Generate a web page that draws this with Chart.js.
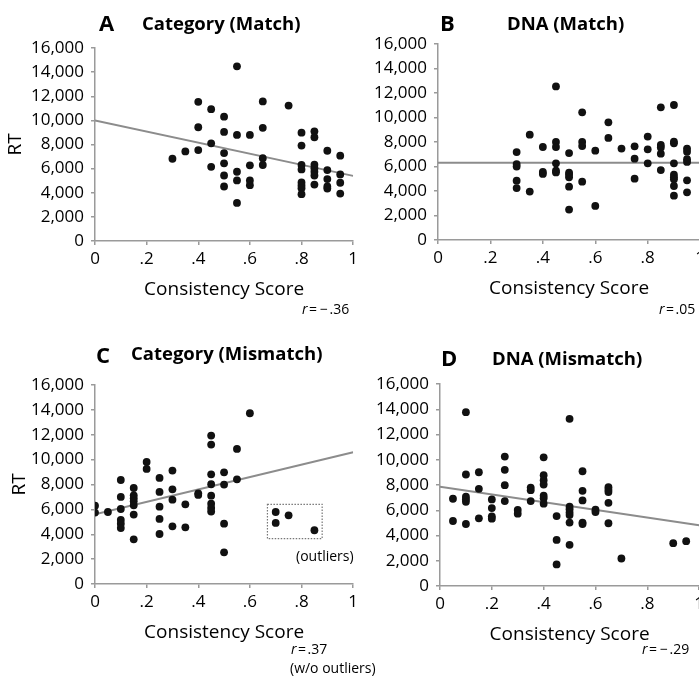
<!DOCTYPE html>
<html>
<head>
<meta charset="utf-8">
<script src="https://cdn.jsdelivr.net/npm/chart.js@4.4.1/dist/chart.umd.min.js"></script>
<style>
  html, body { margin: 0; padding: 0; background: #fff; }
  body { width: 699px; height: 679px; overflow: hidden; position: relative; font-family: 'Open Sans', sans-serif; color: #000; }
  canvas { position: absolute; }
  .lbl { position: absolute; line-height: 1; white-space: nowrap; }
  .letter { font-weight: bold; font-size: 22px; }
  .ttl { font-weight: bold; font-size: 18.5px; }
  .note { font-size: 14px; }
  .note .op { margin: 0 1.5px; }
  .out { font-size: 14px; }
</style>
</head>
<body>

<canvas id="panelA"></canvas>
<canvas id="panelB"></canvas>
<canvas id="panelC"></canvas>
<canvas id="panelD"></canvas>

<!-- panel titles -->
<div class="lbl letter" style="left:99px; top:10.5px;">A</div>
<div class="lbl ttl" style="left:142px; top:13.5px;">Category (Match)</div>
<div class="lbl letter" style="left:440px; top:10.5px;">B</div>
<div class="lbl ttl" style="left:507px; top:13.5px;">DNA (Match)</div>
<div class="lbl letter" style="left:96px; top:342.5px;">C</div>
<div class="lbl ttl" style="left:131px; top:344px;">Category (Mismatch)</div>
<div class="lbl letter" style="left:441px; top:345.5px;">D</div>
<div class="lbl ttl" style="left:492px; top:348.5px;">DNA (Mismatch)</div>

<!-- correlations -->
<div class="lbl note" style="left:302px; top:301.5px;"><i>r</i><span class="op">=</span><span class="op">&minus;</span>.36</div>
<div class="lbl note" style="left:659px; top:301.5px;"><i>r</i><span class="op">=</span>.05</div>
<div class="lbl note" style="left:291px; top:641.5px;"><i>r</i><span class="op">=</span>.37</div>
<div class="lbl note" style="left:290px; top:661px;">(w/o outliers)</div>
<div class="lbl note" style="left:642px; top:641.5px;"><i>r</i><span class="op">=</span><span class="op">&minus;</span>.29</div>
<div class="lbl out" style="left:296px; top:548.5px;">(outliers)</div>

<script>
// tick labels
const xTickLabels = ['0', '.2', '.4', '.6', '.8', '1'];
const yTickLabels = ['0', '2,000', '4,000', '6,000', '8,000', '10,000', '12,000', '14,000', '16,000'];

// [consistency score, RT]
const catMatch = [
    [0.30, 6820], [0.35, 7430],
    [0.40, 11540], [0.40, 9430], [0.40, 7540],
    [0.45, 10930], [0.45, 8100], [0.45, 6150],
    [0.50, 10310], [0.50, 9040], [0.50, 7290], [0.50, 6440], [0.50, 5430], [0.50, 4520],
    [0.55, 14480], [0.55, 8790], [0.55, 5740], [0.55, 5020], [0.55, 3160],
    [0.60, 8790], [0.60, 6270], [0.60, 5020], [0.60, 4630],
    [0.65, 11570], [0.65, 9380], [0.65, 6870], [0.65, 6300],
    [0.75, 11230],
    [0.80, 8980], [0.80, 7910], [0.80, 6300], [0.80, 5930], [0.80, 4860], [0.80, 4600], [0.80, 4380], [0.80, 3880],
    [0.85, 9090], [0.85, 8600], [0.85, 6330], [0.85, 6040], [0.85, 5740], [0.85, 5430], [0.85, 4680],
    [0.90, 7480], [0.90, 5880], [0.90, 5130], [0.90, 4520], [0.90, 4350],
    [0.95, 7070], [0.95, 5520], [0.95, 4830], [0.95, 3930]
];

const dnaMatch = [
    [0.30, 7180], [0.30, 6200], [0.30, 5990], [0.30, 4840], [0.30, 4240],
    [0.35, 8600], [0.35, 3950],
    [0.40, 7590], [0.40, 5550], [0.40, 5390],
    [0.45, 12540], [0.45, 8000], [0.45, 7590], [0.45, 6260], [0.45, 5660], [0.45, 5520],
    [0.50, 7100], [0.50, 5500], [0.50, 5330], [0.50, 5120], [0.50, 4350], [0.50, 2480],
    [0.55, 10420], [0.55, 8000], [0.55, 7670], [0.55, 4760],
    [0.60, 7290], [0.60, 2780],
    [0.65, 9610], [0.65, 8330],
    [0.70, 7460],
    [0.75, 7650], [0.75, 6640], [0.75, 5010],
    [0.80, 8440], [0.80, 7400], [0.80, 6260],
    [0.85, 10830], [0.85, 7760], [0.85, 7560], [0.85, 7050], [0.85, 5710],
    [0.90, 11020], [0.90, 8030], [0.90, 7890], [0.90, 6260], [0.90, 5330], [0.90, 5120], [0.90, 4950], [0.90, 4410], [0.90, 3620],
    [0.95, 7460], [0.95, 7210], [0.95, 6590], [0.95, 6370], [0.95, 4870], [0.95, 3890]
];

const catMismatch = [
    [0.00, 6300], [0.00, 5740],
    [0.05, 5790],
    [0.10, 8360], [0.10, 7000], [0.10, 6030], [0.10, 5150], [0.10, 4850], [0.10, 4500],
    [0.15, 7720], [0.15, 7130], [0.15, 6890], [0.15, 6650], [0.15, 6330], [0.15, 5580], [0.15, 3590],
    [0.20, 9810], [0.20, 9250],
    [0.25, 8530], [0.25, 7400], [0.25, 6220], [0.25, 5230], [0.25, 4020],
    [0.30, 9120], [0.30, 7610], [0.30, 6780], [0.30, 4640],
    [0.35, 6410], [0.35, 4560],
    [0.40, 7290], [0.40, 7160],
    [0.45, 11930], [0.45, 11210], [0.45, 8820], [0.45, 8020], [0.45, 7100], [0.45, 6460], [0.45, 6110], [0.45, 5820],
    [0.50, 8980], [0.50, 7990], [0.50, 4850], [0.50, 2550],
    [0.55, 10860], [0.55, 8420],
    [0.60, 13730]
];
const catMismatchOutliers = [[0.70, 5790], [0.70, 4910], [0.75, 5520], [0.85, 4320]];

const dnaMismatch = [
    [0.05, 6910], [0.05, 5150],
    [0.10, 13770], [0.10, 8830], [0.10, 7070], [0.10, 6880], [0.10, 6670], [0.10, 4910],
    [0.15, 9010], [0.15, 7700], [0.15, 5360],
    [0.20, 6860], [0.20, 6170], [0.20, 5520], [0.20, 5330],
    [0.25, 10250], [0.25, 9200], [0.25, 7990], [0.25, 6730],
    [0.30, 6020], [0.30, 5730],
    [0.35, 7800], [0.35, 7590], [0.35, 6730],
    [0.40, 10190], [0.40, 8780], [0.40, 8380], [0.40, 8040], [0.40, 7150], [0.40, 6960], [0.40, 6520],
    [0.45, 5540], [0.45, 3650], [0.45, 1710],
    [0.50, 13240], [0.50, 6280], [0.50, 6070], [0.50, 5830], [0.50, 5620], [0.50, 5020], [0.50, 3260],
    [0.55, 9090], [0.55, 7540], [0.55, 6780], [0.55, 5020], [0.55, 4910],
    [0.60, 6040], [0.60, 5860],
    [0.65, 7830], [0.65, 7620], [0.65, 7440], [0.65, 6590], [0.65, 4970],
    [0.70, 2180],
    [0.90, 3390], [0.95, 3550]
];

// fitted RT at score 0 and score 1
const catMatchFit = [10000, 5400];
const dnaMatchFit = [6300, 6300];
const catMismatchFit = [5600, 10600];
const dnaMismatchFit = [7870, 4820];

// dotted box round the outliers: [xMin, xMax, yMin, yMax]
const outlierBox = [0.668, 0.88, 3650, 6410];

Chart.defaults.font.family = "'Open Sans', sans-serif";
Chart.defaults.color = '#000';

const AXIS = '#9a9a9a';

const boxPlugin = {
    id: 'outlierBox',
    afterDatasetsDraw(chart, args, opts) {
        if (!opts.box) return;
        const {ctx, scales: {x, y}} = chart;
        const [x0, x1, y0, y1] = opts.box;
        const l = x.getPixelForValue(x0), r = x.getPixelForValue(x1);
        const t = y.getPixelForValue(y1), b = y.getPixelForValue(y0);
        ctx.save();
        ctx.strokeStyle = '#777';
        ctx.lineWidth = 1.2;
        ctx.setLineDash([1.5, 1.5]);
        ctx.strokeRect(l, t, r - l, b - t);
        ctx.restore();
    }
};

const panels = [
    {id: 'panelA', points: catMatch, fit: catMatchFit, area: {left: 95, top: 48, right: 354, bottom: 241}, rt: 4},
    {id: 'panelB', points: dnaMatch, fit: dnaMatchFit, area: {left: 438, top: 44, right: 701, bottom: 240}},
    {id: 'panelC', points: catMismatch.concat(catMismatchOutliers), fit: catMismatchFit, area: {left: 95, top: 385, right: 354, bottom: 584}, rt: 8, box: outlierBox},
    {id: 'panelD', points: dnaMismatch, fit: dnaMismatchFit, area: {left: 440, top: 384, right: 700, bottom: 586}}
];

function makePanel(p) {
    const canvas = document.getElementById(p.id);
    const w = p.area.right - p.area.left, h = p.area.bottom - p.area.top;
    canvas.width = 95 + w + 8;
    canvas.height = 48 + h + 89;
    canvas.style.left = (p.area.left - 95) + 'px';
    canvas.style.top = (p.area.top - 48) + 'px';

    new Chart(canvas, {
        type: 'scatter',
        data: {
            datasets: [
                {
                    data: p.points.map(([x, y]) => ({x, y})),
                    backgroundColor: '#111',
                    borderWidth: 0,
                    pointRadius: 3.9
                },
                {
                    type: 'line',
                    data: [{x: 0, y: p.fit[0]}, {x: 1, y: p.fit[1]}],
                    borderColor: '#8c8c8c',
                    borderWidth: 2,
                    pointRadius: 0
                }
            ]
        },
        options: {
            responsive: false,
            animation: false,
            events: [],
            layout: {padding: {left: 0, top: 48, right: 8, bottom: 29}},
            plugins: {
                legend: {display: false},
                tooltip: {enabled: false},
                outlierBox: {box: p.box}
            },
            scales: {
                x: {
                    type: 'linear', min: 0, max: 1,
                    ticks: {stepSize: 0.2, callback: (v, i) => xTickLabels[i], font: {size: 17}, padding: 4},
                    grid: {drawOnChartArea: false, tickLength: 4, color: AXIS, lineWidth: 1.5},
                    border: {color: AXIS, width: 1.5},
                    title: {display: true, text: 'Consistency Score', font: {size: 19}, padding: 0},
                    afterFit: s => { s.height = 60; }
                },
                y: {
                    min: 0, max: 16000,
                    ticks: {stepSize: 2000, callback: (v, i) => yTickLabels[i], font: {size: 17}, padding: 7},
                    grid: {drawOnChartArea: false, tickLength: 4, color: AXIS, lineWidth: 1.5},
                    border: {color: AXIS, width: 1.5},
                    title: {display: !!p.rt, text: 'RT', font: {size: 19}, padding: {top: p.rt || 0, bottom: 0}},
                    afterFit: s => { s.width = 95; }
                }
            }
        },
        plugins: [boxPlugin]
    });
}

panels.forEach(makePanel);
</script>
</body>
</html>
